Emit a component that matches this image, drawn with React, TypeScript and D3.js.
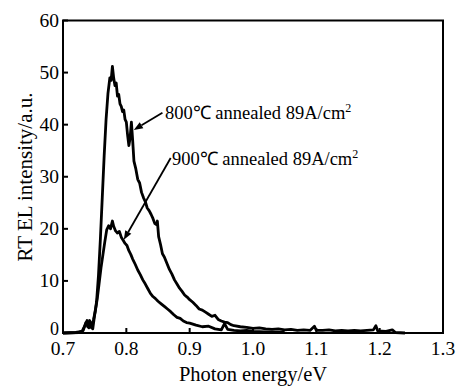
import React from "react";
import * as d3 from "d3";

const xTicks = [0.7, 0.8, 0.9, 1.0, 1.1, 1.2, 1.3];
const xTickLabels = ["0.7", "0.8", "0.9", "1.0", "1.1", "1.2", "1.3"];
const yTicks = [0, 10, 20, 30, 40, 50, 60];

const e800 = [0.700,0.720,0.730,0.735,0.738,0.741,0.744,0.747,0.750,0.753,0.756,0.759,0.762,0.765,0.768,0.771,0.774,0.776,0.778,0.780,0.782,0.784,0.786,0.788,0.790,0.792,0.794,0.796,0.798,0.800,0.802,0.804,0.806,0.808,0.810,0.812,0.815,0.818,0.821,0.824,0.827,0.830,0.833,0.836,0.839,0.842,0.845,0.848,0.849,0.851,0.854,0.857,0.860,0.864,0.868,0.872,0.876,0.880,0.884,0.888,0.892,0.896,0.900,0.905,0.910,0.915,0.920,0.925,0.930,0.935,0.940,0.945,0.950,0.955,0.960,0.965,0.970,0.980,0.990,1.000,1.010,1.020,1.030,1.040,1.050,1.060,1.070,1.080,1.090,1.097,1.100,1.110,1.120,1.130,1.140,1.150,1.160,1.170,1.180,1.190,1.194,1.197,1.210,1.220,1.225,1.240];
const v800 = [0,0.1,0.3,1.5,2.4,1.0,2.0,0.8,3.5,6,11,18,26,34,41,46,49,48.5,51.2,49,47.5,48,45.5,45.8,44,43.5,42.5,42.8,41,40.5,38,36,37.5,40.5,37,33,31.5,29.5,28.8,27,26,25.2,24,23.5,22.8,22,21,20.8,21.5,18.5,17,15.2,14.6,13.4,12.2,11.3,10.2,9.4,8.6,8.0,7.3,6.9,6.4,5.9,5.3,4.6,4.4,4.0,3.6,3.2,3.4,2.6,2.3,2.1,2.0,1.6,1.4,1.2,1.1,0.9,1.0,0.8,0.7,0.8,0.6,0.7,0.5,0.6,0.5,1.3,0.5,0.5,0.6,0.4,0.5,0.4,0.5,0.4,0.5,0.6,1.4,0.4,0.3,0.6,0.1,0];

const e900 = [0.700,0.725,0.732,0.736,0.739,0.742,0.745,0.748,0.751,0.754,0.757,0.760,0.763,0.766,0.769,0.772,0.775,0.778,0.780,0.783,0.786,0.789,0.792,0.795,0.798,0.801,0.804,0.807,0.810,0.814,0.818,0.822,0.826,0.830,0.834,0.838,0.842,0.846,0.850,0.855,0.860,0.865,0.870,0.875,0.880,0.885,0.890,0.895,0.900,0.910,0.920,0.930,0.940,0.950,0.955,0.960,0.970,0.980,0.990,1.000,1.020,1.050];
const v900 = [0,0.1,0.5,2.0,1.2,2.4,1.0,2.5,4.2,6.5,9.5,12.5,15,17.5,19.8,20.6,20,21.5,20.5,19.6,19.2,19.5,18.4,17.8,17.2,16.8,15.8,15.1,14.2,13.2,12.1,11.2,10.2,9.4,8.5,7.6,7.0,6.6,6.1,5.6,5.1,4.6,4.1,3.5,3.0,2.8,2.3,2.0,1.9,1.5,1.2,1.3,0.8,0.6,1.8,0.7,0.5,0.4,0.5,0.3,0.2,0.1];

const series = [
  { name: "800", e: e800, v: v800 },
  { name: "900", e: e900, v: v900 },
];

export default function App() {
  const W = 456, H = 387;
  const x = d3.scaleLinear().domain([0.7, 1.3]).range([63, 443]);
  const y = d3.scaleLinear().domain([0, 60]).range([333, 20.5]);
  const line = d3.line<[number, number]>().x(d => x(d[0])).y(d => y(d[1]));
  const font = "'Liberation Serif', 'Times New Roman', serif";

  const arrows = [
    { from: [0.857, 42.3], to: [0.8118, 39.0], label: "800", tx: 0.861, ty: 41.0 },
    { from: [0.870, 33.6], to: [0.796, 17.9], label: "900", tx: 0.872, ty: 32.2 },
  ];

  return (
    <svg width={W} height={H} style={{ position: "absolute", left: 0, top: 0, background: "#fff" }} fontFamily={font}>
      <rect x={0} y={0} width={W} height={H} fill="#fff" />
      {series.map(s => (
        <path key={s.name} d={line(s.e.map((e, i) => [e, s.v[i]] as [number, number])) || ""}
          fill="none" stroke="#000" strokeWidth={2.8} strokeLinejoin="round" />
      ))}
      <rect x={x(0.7)} y={y(60)} width={x(1.3) - x(0.7)} height={y(0) - y(60)} fill="none" stroke="#000" strokeWidth={2} />
      {yTicks.map(t => (
        <g key={"y" + t}>
          <line x1={x(0.7)} x2={x(0.7) + 5} y1={y(t)} y2={y(t)} stroke="#000" strokeWidth={2} />
          <text x={x(0.7) - 4} y={t === 0 ? y(t) - 4 : y(t)} dy="0.33em" textAnchor="end" fontSize={t === 0 ? 18 : 19.5}>{t}</text>
        </g>
      ))}
      {xTicks.map((t, i) => (
        <g key={"x" + t}>
          <line x1={x(t)} x2={x(t)} y1={y(0)} y2={y(0) - 5} stroke="#000" strokeWidth={2} />
          <text x={x(t)} y={y(0) + 22} textAnchor="middle" fontSize={19.5}>{xTickLabels[i]}</text>
        </g>
      ))}
      <text x={253} y={381} textAnchor="middle" fontSize={20.5}>Photon energy/eV</text>
      <text transform={`translate(32,177) rotate(-90)`} textAnchor="middle" fontSize={21}>RT EL intensity/a.u.</text>
      {arrows.map(a => {
        const x1 = x(a.from[0]), y1 = y(a.from[1]), x2 = x(a.to[0]), y2 = y(a.to[1]);
        const ang = Math.atan2(y2 - y1, x2 - x1);
        const L = 9, Wd = 3.5;
        const bx = x2 - L * Math.cos(ang), by = y2 - L * Math.sin(ang);
        const p1 = [bx + Wd * Math.sin(ang), by - Wd * Math.cos(ang)];
        const p2 = [bx - Wd * Math.sin(ang), by + Wd * Math.cos(ang)];
        return (
          <g key={a.label}>
            <line x1={x1} y1={y1} x2={bx} y2={by} stroke="#000" strokeWidth={1.8} />
            <polygon points={`${x2},${y2} ${p1[0]},${p1[1]} ${p2[0]},${p2[1]}`} fill="#000" />
            <text x={x(a.tx)} y={y(a.ty)} fontSize={18.5}>
              {a.label}℃ annealed 89A/cm<tspan fontSize={12} dy={-7}>2</tspan>
            </text>
          </g>
        );
      })}
    </svg>
  );
}
